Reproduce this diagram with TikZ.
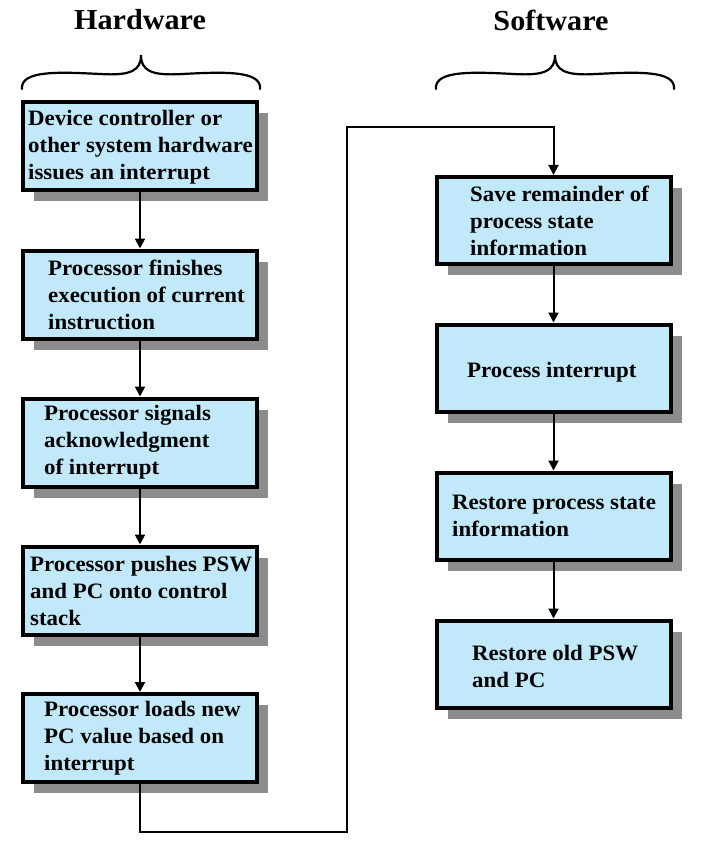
\documentclass[tikz,border=0pt]{standalone}
\usepackage{fontspec}
\setmainfont{Liberation Serif}[FakeStretch=1.04]
\usetikzlibrary{arrows.meta,shadows}
\definecolor{boxblue}{HTML}{C1E9F9}
\definecolor{shadowgray}{HTML}{8C8C8C}
\begin{document}
\begin{tikzpicture}[x=1pt,y=-1pt,
  flowbox/.style={draw=black,line width=4pt,fill=boxblue,minimum width=234pt,minimum height=88pt,inner sep=0pt,
    drop shadow={shadow xshift=11pt,shadow yshift=-11pt,fill=shadowgray,opacity=1}},
  boxtext/.style={anchor=west,align=left,font=\bfseries\fontsize{22}{27}\selectfont,inner sep=0pt},
  title/.style={font=\bfseries\fontsize{29}{32}\selectfont,inner sep=0pt},
  link/.style={line width=2pt,-{Triangle[width=10pt,length=10pt]}},
  brace/.style={line width=2.2pt,line cap=round}]
\useasboundingbox (0,0) rectangle (710,853);
\fill[white] (0,0) rectangle (710,853);
% titles
\node[title] (th) at (140,20) {Hardware};
\node[title] (ts) at (551,20) {Software};
% braces
\draw[brace] (22,89) .. controls (20,70) and (60,72) .. (100,74) .. controls (132,76) and (141,70) .. (141,55)
  .. controls (141,70) and (150,76) .. (182,74) .. controls (222,72) and (262,70) .. (260,89);
\draw[brace] (436,89) .. controls (434,70) and (474,72) .. (514,74) .. controls (546,76) and (555,70) .. (555,55)
  .. controls (555,70) and (564,76) .. (596,74) .. controls (636,72) and (676,70) .. (674,89);
% hardware boxes
\node[flowbox] (h1) at (140,146) {};
\node[flowbox] (h2) at (140,294.5) {};
\node[flowbox] (h3) at (140,442.5) {};
\node[flowbox] (h4) at (140,590.5) {};
\node[flowbox] (h5) at (140,738) {};
% software boxes
\node[flowbox,minimum height=87pt] (s1) at (553.5,220.5) {};
\node[flowbox,minimum height=87pt] (s2) at (553.5,368) {};
\node[flowbox,minimum height=87pt] (s3) at (553.5,516) {};
\node[flowbox,minimum height=87pt] (s4) at (553.5,664) {};
% texts
\node[boxtext] (t1) at (28,147) {Device controller or\\other system hardware\\issues an interrupt};
\node[boxtext] (t2) at (48,294.5) {Processor finishes\\execution of current\\instruction};
\node[boxtext] (t3) at (44,442.5) {Processor signals\\acknowledgment\\of interrupt};
\node[boxtext] (t4) at (30,590.5) {Processor pushes PSW\\and PC onto control\\stack};
\node[boxtext] (t5) at (44,738) {Processor loads new\\PC value based on\\interrupt};
\node[boxtext] (u1) at (470,220.5) {Save remainder of\\process state\\information};
\node[boxtext] (u2) at (467,372) {Process interrupt};
\node[boxtext] (u3) at (452,516) {Restore process state\\information};
\node[boxtext] (u4) at (472,666) {Restore old PSW\\and PC};
% connectors
\draw[link] (h1) -- (h2);
\draw[link] (h2) -- (h3);
\draw[link] (h3) -- (h4);
\draw[link] (h4) -- (h5);
\draw[link] (s1) -- (s2);
\draw[link] (s2) -- (s3);
\draw[link] (s3) -- (s4);
\coordinate (c1) at (140,832);
\coordinate (c2) at (347,832);
\coordinate (c3) at (347,127);
\draw[link] (h5.south) -- (c1) -- (c2) -- (c3) -| (s1.north);
\end{tikzpicture}
\end{document}
